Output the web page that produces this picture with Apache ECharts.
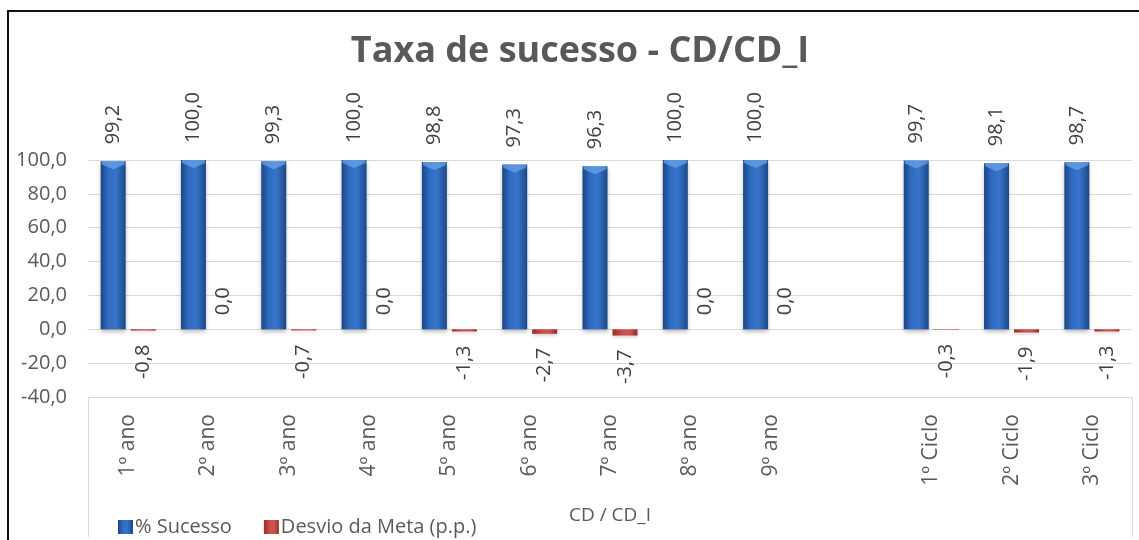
<!DOCTYPE html>
<html>
<head>
<meta charset="utf-8">
<script src="https://cdn.jsdelivr.net/npm/echarts@6/dist/echarts.min.js"></script>
<style>
  html, body { margin: 0; padding: 0; background: #fff; }
  #chart { width: 1139px; height: 540px; }
  #frame { position: absolute; left: 7px; top: 10px; width: 1140px; height: 540px;
           border-top: 2px solid #111; border-left: 2px solid #111; pointer-events: none; }
</style>
</head>
<body>
<div id="chart"></div>
<div id="frame"></div>
<script>
// categorias (a vazia separa anos e ciclos)
const categories = ['1º ano', '2º ano', '3º ano', '4º ano', '5º ano', '6º ano', '7º ano', '8º ano', '9º ano', '', '1º Ciclo', '2º Ciclo', '3º Ciclo'];
const sucesso = [99.2, 100.0, 99.3, 100.0, 98.8, 97.3, 96.3, 100.0, 100.0, '-', 99.7, 98.1, 98.7];
const desvio = [-0.8, 0.0, -0.7, 0.0, -1.3, -2.7, -3.7, 0.0, 0.0, '-', -0.3, -1.9, -1.3];
const outerCategory = ['CD / CD_I'];
const yTicks = { min: -40, max: 100, interval: 20 };

const FONT = 'Open Sans';
const fmt = v => Number(v).toFixed(1).replace('.', ',');

const blueGrad = new echarts.graphic.LinearGradient(0, 0, 1, 0, [
  { offset: 0, color: '#1b4584' },
  { offset: 0.3, color: '#2f6bc0' },
  { offset: 0.6, color: '#3675cb' },
  { offset: 1, color: '#1c4888' }
]);
const redGrad = new echarts.graphic.LinearGradient(0, 0, 1, 0, [
  { offset: 0, color: '#9a2d2a' },
  { offset: 0.4, color: '#c9504c' },
  { offset: 0.7, color: '#cd5450' },
  { offset: 1, color: '#972b28' }
]);

const myChart = echarts.init(document.getElementById('chart'));

const option = {
  backgroundColor: '#ffffff',
  animation: false,
  textStyle: { fontFamily: FONT },
  title: {
    text: 'Taxa de sucesso - CD/CD_I',
    left: 575,
    top: 29,
    textAlign: 'center',
    textStyle: { fontFamily: FONT, fontSize: 36, fontWeight: 'bold', color: '#595959' }
  },
  legend: {
    data: ['% Sucesso', 'Desvio da Meta (p.p.)'],
    left: 113,
    top: 512,
    icon: 'rect',
    itemWidth: 15,
    itemHeight: 14,
    itemGap: 32,
    selectedMode: false,
    textStyle: { fontFamily: FONT, fontSize: 20, color: '#595959', padding: [0, 0, 0, -3] }
  },
  grid: {
    left: 88,
    right: 7,
    top: 160,
    bottom: 143
  },
  xAxis: [
    {
      type: 'category',
      data: categories,
      boundaryGap: true,
      axisLine: { show: true, lineStyle: { color: '#d9d9d9', width: 1 } },
      axisTick: { show: false },
      axisLabel: {
        interval: 0,
        rotate: 90,
        margin: 17,
        fontFamily: FONT,
        fontSize: 21,
        color: '#595959'
      }
    },
    {
      type: 'category',
      data: outerCategory,
      position: 'bottom',
      boundaryGap: true,
      axisLine: { show: false },
      axisTick: { show: true, length: 140, lineStyle: { color: '#d9d9d9' } },
      axisLabel: {
        margin: 109,
        fontFamily: FONT,
        fontSize: 19,
        color: '#595959'
      }
    }
  ],
  yAxis: {
    type: 'value',
    min: yTicks.min,
    max: yTicks.max,
    interval: yTicks.interval,
    axisLine: { show: false },
    axisTick: { show: false },
    splitLine: { show: true, lineStyle: { color: '#d9d9d9' } },
    axisLabel: {
      margin: 21,
      fontFamily: FONT,
      fontSize: 20,
      color: '#595959',
      formatter: v => fmt(v)
    }
  },
  series: [
    {
      name: '% Sucesso',
      type: 'bar',
      data: sucesso,
      barWidth: 25,
      barGap: '20%',
      itemStyle: {
        color: blueGrad,
        shadowColor: 'rgba(0,0,0,0.25)',
        shadowBlur: 4,
        shadowOffsetY: 3
      },
      label: {
        show: true,
        position: 'top',
        rotate: 90,
        align: 'left',
        verticalAlign: 'middle',
        distance: 17,
        fontFamily: FONT,
        fontSize: 20,
        color: '#404040',
        formatter: p => fmt(p.value)
      }
    },
    {
      name: 'Desvio da Meta (p.p.)',
      type: 'bar',
      data: desvio.map(v => v === '-' ? v : {
        value: v,
        label: v < 0
          ? { position: 'bottom', align: 'right', distance: 14 }
          : { position: 'top', align: 'left', distance: 14 }
      }),
      barWidth: 25,
      itemStyle: {
        color: redGrad,
        shadowColor: 'rgba(0,0,0,0.15)',
        shadowBlur: 3,
        shadowOffsetY: 2
      },
      label: {
        show: true,
        rotate: 90,
        verticalAlign: 'middle',
        fontFamily: FONT,
        fontSize: 20,
        color: '#404040',
        formatter: p => fmt(p.value)
      }
    },
    {
      // reflexo claro no topo das barras azuis
      name: 'topo',
      type: 'pictorialBar',
      data: sucesso,
      symbol: 'path://M0,0 L10,0 L10,1.4 L5,3.6 L0,1.4 Z',
      symbolSize: [23, 8],
      symbolPosition: 'end',
      symbolOffset: [-15, 0],
      z: 3,
      silent: true,
      itemStyle: { color: 'rgba(110,165,235,0.7)' }
    }
  ]
};

myChart.setOption(option);
</script>
</body>
</html>
